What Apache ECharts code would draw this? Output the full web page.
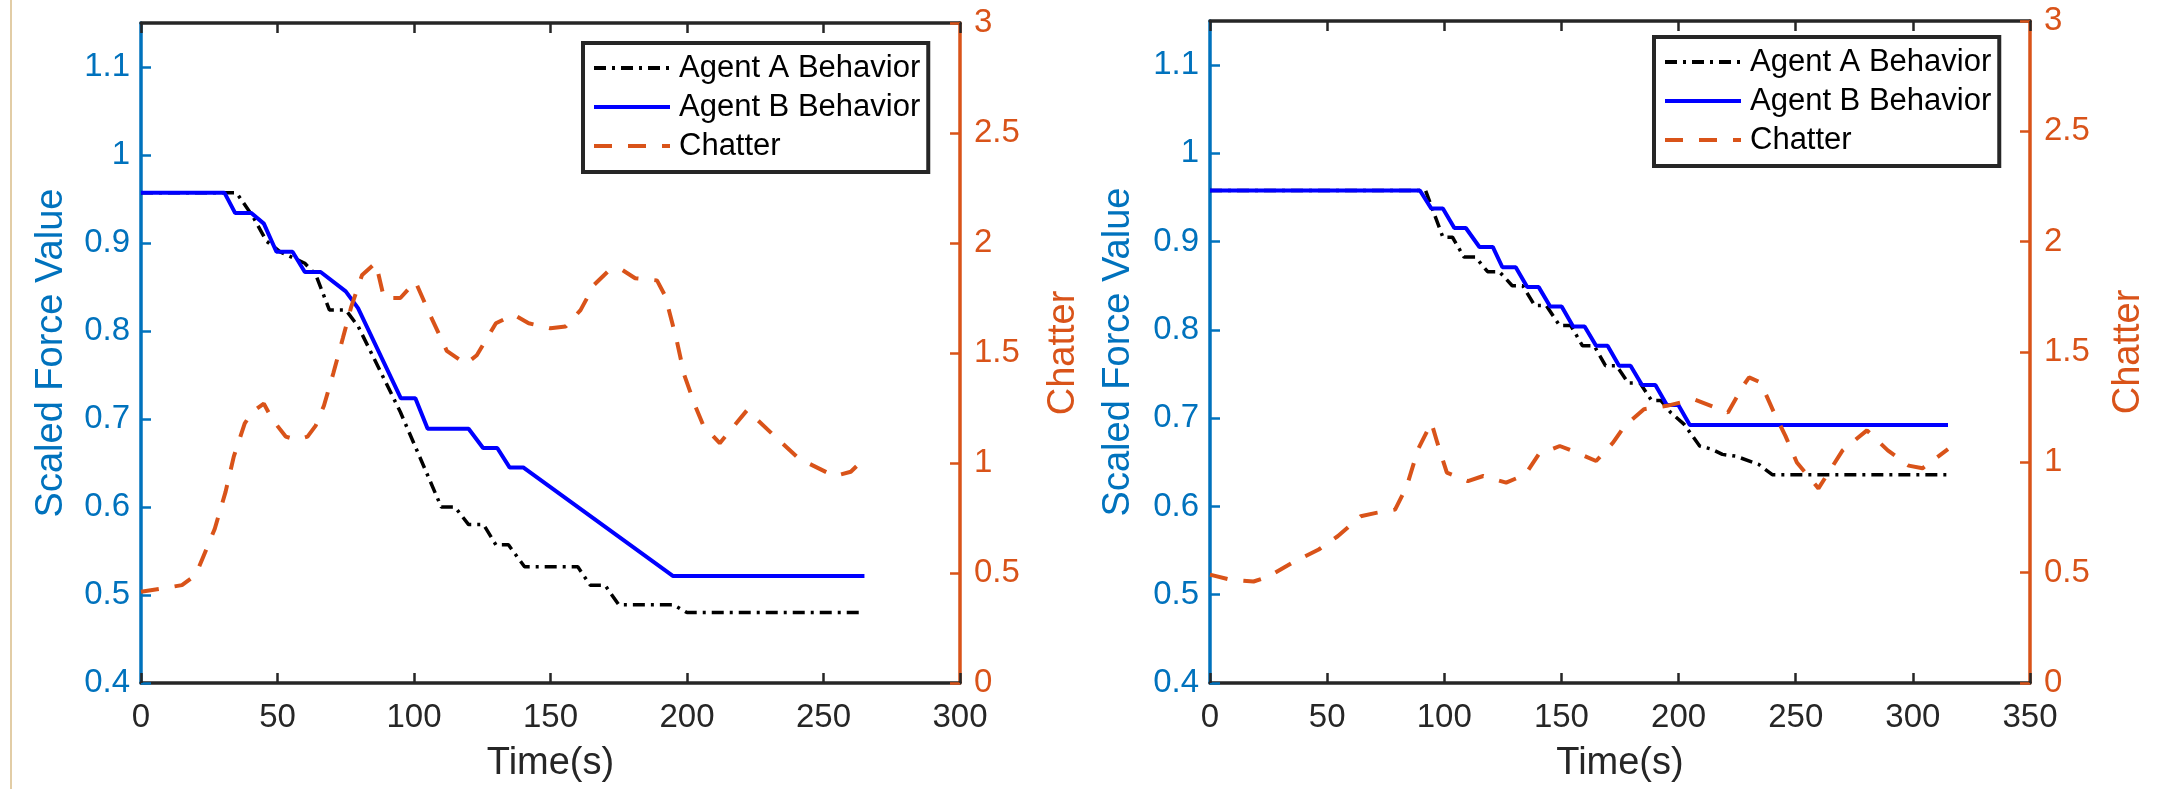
<!DOCTYPE html>
<html><head><meta charset="utf-8">
<script src="https://cdn.jsdelivr.net/npm/echarts@6/dist/echarts.min.js"></script>
<style>html,body{margin:0;padding:0;background:#fff}#c{width:2168px;height:789px}</style>
</head><body><div id="c"></div>
<script>
// ---- tick labels / names ----
const xTicksLeft = [0, 50, 100, 150, 200, 250, 300];
const xTicksRight = [0, 50, 100, 150, 200, 250, 300, 350];
const forceTicks = [0.4, 0.5, 0.6, 0.7, 0.8, 0.9, 1, 1.1];
const chatterTicks = [0, 0.5, 1, 1.5, 2, 2.5, 3];
const seriesNames = ['Agent A Behavior', 'Agent B Behavior', 'Chatter'];
const xName = 'Time(s)';
const yLeftName = 'Scaled Force Value';
const yRightName = 'Chatter';

// ---- left panel data ----
const leftATime = [0,35,41,46,51,60,64,69,75,79.6,95,110,115,120,125.5,130,134.6,140.5,160,164.6,170,175,195,200,265];
const leftAValue = [0.957,0.957,0.930,0.902,0.890,0.877,0.864,0.824,0.824,0.805,0.708,0.600,0.600,0.580,0.580,0.557,0.557,0.532,0.532,0.511,0.511,0.489,0.489,0.480,0.480];
const leftBTime = [0,30.6,34.5,40.4,45,49.6,55.5,60,65.8,75,79.5,95.2,100.5,105,120,125.3,130.5,135,140,194.8,265];
const leftBValue = [0.957,0.957,0.934,0.934,0.922,0.890,0.890,0.867,0.867,0.845,0.826,0.7235,0.7235,0.689,0.689,0.667,0.667,0.645,0.645,0.5216,0.5216];
const leftChatterTime = [0,8,15,20,23,27,31,34,38,41,45,48,53,57,61,64,67,70.5,74,77,81,86,89,95,100.5,106,112,119,123,130,136.5,142,150,155.5,161,166,171,176,181,189,192,196,199,203,206,212,222,234,241,254,260,265];
const leftChatterValue = [0.415,0.43,0.445,0.49,0.58,0.70,0.87,1.03,1.18,1.235,1.27,1.20,1.12,1.105,1.12,1.17,1.26,1.41,1.57,1.71,1.855,1.91,1.75,1.75,1.825,1.67,1.51,1.45,1.49,1.635,1.675,1.635,1.612,1.62,1.695,1.81,1.87,1.88,1.84,1.83,1.76,1.57,1.40,1.26,1.17,1.09,1.24,1.10,1.02,0.94,0.96,1.02];

// ---- right panel data ----
const rightATime = [0,92,99.4,103.5,108.4,113.3,118.5,123.5,129,133.5,138.6,143.5,149.2,154,159,164,168.8,173.5,178.5,183.5,188.5,192.5,196.6,202.4,209,214,218.7,224.4,234.2,240,315];
const rightAValue = [0.958,0.958,0.905,0.905,0.8826,0.8826,0.866,0.866,0.85,0.85,0.8277,0.8277,0.805,0.805,0.782,0.782,0.7595,0.7595,0.74,0.74,0.72,0.72,0.7065,0.693,0.6685,0.665,0.659,0.657,0.6477,0.636,0.636];
const rightBTime = [0,89.6,94.5,99.4,104.3,109.2,115,120.7,124.8,130.5,135.4,140.3,145.2,150.1,155,159.9,164.8,169.7,174.6,179.5,184.4,190.1,195,199.9,204.8,315];
const rightBValue = [0.958,0.958,0.9375,0.9375,0.9155,0.9155,0.894,0.894,0.871,0.871,0.8485,0.8485,0.8265,0.8265,0.804,0.804,0.782,0.782,0.7595,0.7595,0.7375,0.7375,0.715,0.715,0.6924,0.6924];
const rightChatterTime = [0,8.8,18.6,25.1,34.9,46.4,54.5,64.3,70.9,79,84,88.8,94.5,97,101.1,110.1,116.6,126.4,134.6,140.3,149.3,156.6,164.8,172.1,177,185.2,195,206.4,221.1,227.6,230.1,235,240.7,245.6,250.5,259.7,270,280.4,289.3,298.2,304.1,315];
const rightChatterValue = [0.491,0.468,0.46,0.483,0.544,0.605,0.665,0.756,0.771,0.786,0.892,1.059,1.18,1.09,0.953,0.915,0.938,0.908,0.945,1.036,1.074,1.044,1.006,1.09,1.165,1.241,1.256,1.286,1.226,1.347,1.385,1.362,1.226,1.12,0.999,0.882,1.054,1.145,1.054,0.985,0.973,1.06];

// ---- styling ----
const FONT = "'Liberation Sans', Arial, sans-serif";
const BLUE_AX = '#0072BD', ORANGE = '#D95319', DARK = '#262626';
const pair = (t, v) => t.map((x, i) => [x, v[i]]);

function xAxes(gridIndex, ticks) {
  const max = ticks[ticks.length - 1];
  const base = {
    gridIndex, type: 'value', min: 0, max, interval: 50,
    splitLine: {show: false},
    axisLine: {show: true, onZero: false, lineStyle: {color: DARK, width: 3.5}},
    axisTick: {show: true, inside: true, length: 10, lineStyle: {color: DARK, width: 2.5}, customValues: ticks},
  };
  return [
    Object.assign({}, base, {
      position: 'bottom',
      axisLabel: {show: true, customValues: ticks, margin: 18, fontSize: 33, fontFamily: FONT, color: DARK},
      name: xName, nameLocation: 'middle', nameGap: 62,
      nameTextStyle: {fontSize: 38, fontFamily: FONT, color: DARK}
    }),
    Object.assign({}, base, {position: 'top', axisLabel: {show: false}})
  ];
}

function yAxes(gridIndex, leftGap, rightGap) {
  return [
    {
      gridIndex, type: 'value', position: 'left', min: 0.4, max: 1.15, interval: 0.1,
      splitLine: {show: false},
      axisLine: {show: true, onZero: false, lineStyle: {color: BLUE_AX, width: 3.5}},
      axisTick: {show: true, inside: true, length: 10, lineStyle: {color: BLUE_AX, width: 2.5}, customValues: forceTicks},
      axisLabel: {customValues: forceTicks, margin: 11, fontSize: 33, fontFamily: FONT, color: BLUE_AX,
        formatter: v => (v > 1.12 ? '' : String(+(+v).toFixed(2)))},
      name: yLeftName, nameLocation: 'middle', nameGap: leftGap,
      nameTextStyle: {fontSize: 38, fontFamily: FONT, color: BLUE_AX}
    },
    {
      gridIndex, type: 'value', position: 'right', min: 0, max: 3, interval: 0.5,
      splitLine: {show: false},
      axisLine: {show: true, onZero: false, lineStyle: {color: ORANGE, width: 3.5}},
      axisTick: {show: true, inside: true, length: 10, lineStyle: {color: ORANGE, width: 2.5}, customValues: chatterTicks},
      axisLabel: {customValues: chatterTicks, margin: 14, fontSize: 33, fontFamily: FONT, color: ORANGE},
      name: yRightName, nameLocation: 'middle', nameGap: rightGap,
      nameTextStyle: {fontSize: 38, fontFamily: FONT, color: ORANGE}
    }
  ];
}

function panelSeries(xIdx, yLeft, yRight, aT, aV, bT, bV, cT, cV) {
  return [
    {name: seriesNames[0], type: 'line', xAxisIndex: xIdx, yAxisIndex: yLeft, data: pair(aT, aV),
      symbol: 'none', lineStyle: {color: '#000000', width: 3.5, type: [12, 6, 3, 6]}, itemStyle: {color: '#000000'}, z: 3},
    {name: seriesNames[1], type: 'line', xAxisIndex: xIdx, yAxisIndex: yLeft, data: pair(bT, bV),
      symbol: 'none', lineStyle: {color: '#0000FF', width: 4, type: 'solid'}, itemStyle: {color: '#0000FF'}, z: 4},
    {name: seriesNames[2], type: 'line', xAxisIndex: xIdx, yAxisIndex: yRight, data: pair(cT, cV),
      symbol: 'none', lineStyle: {color: ORANGE, width: 4, type: [18, 16]}, itemStyle: {color: ORANGE}, z: 5}
  ];
}

function legend(left, top) {
  return {
    data: seriesNames, orient: 'vertical', left, top,
    itemWidth: 76, itemHeight: 20, itemGap: 5,
    padding: [8, 8, 9, 9],
    borderColor: DARK, borderWidth: 4, backgroundColor: '#ffffff',
    itemStyle: {opacity: 0},
    lineStyle: {width: 4},
    textStyle: {fontSize: 31, fontFamily: FONT, color: '#000000', lineHeight: 34, padding: [0, 0, 0, 4]},
    selectedMode: false
  };
}

const chart = echarts.init(document.getElementById('c'), null, {renderer: 'canvas'});
chart.setOption({
  animation: false,
  backgroundColor: '#ffffff',
  grid: [
    {left: 141, top: 23, width: 819, height: 660, containLabel: false, outerBoundsMode: 'none'},
    {left: 1210, top: 21, width: 820, height: 662, containLabel: false, outerBoundsMode: 'none'}
  ],
  xAxis: [].concat(xAxes(0, xTicksLeft), xAxes(1, xTicksRight)),
  yAxis: [].concat(yAxes(0, 70, 85), yAxes(1, 72, 80)),
  legend: [legend(583, 43), legend(1654, 37)],
  graphic: [{type: 'rect', left: 10, top: 0, shape: {width: 2, height: 789}, style: {fill: '#e2cda6'}, silent: true}],
  series: [].concat(
    panelSeries(0, 0, 1, leftATime, leftAValue, leftBTime, leftBValue, leftChatterTime, leftChatterValue),
    panelSeries(2, 2, 3, rightATime, rightAValue, rightBTime, rightBValue, rightChatterTime, rightChatterValue)
  )
});
</script>
</body></html>
